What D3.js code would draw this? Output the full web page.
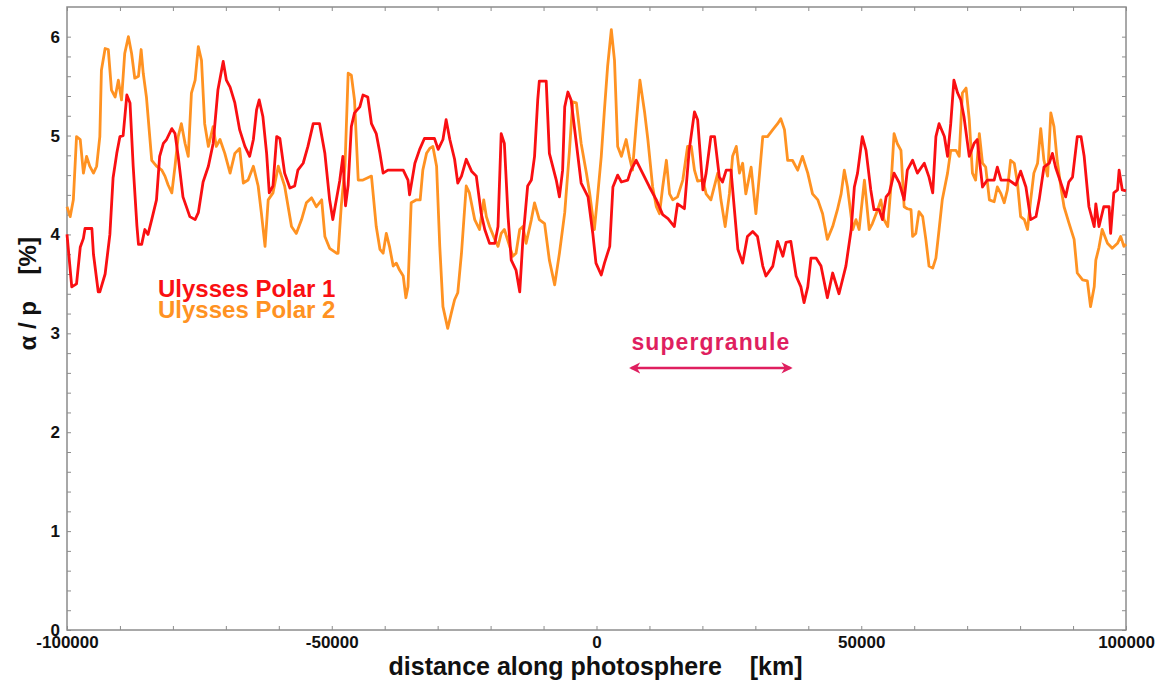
<!DOCTYPE html>
<html lang="en">
<meta charset="utf-8">
<script src="https://cdn.jsdelivr.net/npm/d3@7"></script>
<style>
body { margin: 0; background: #fff; }
text { font-family: "Liberation Sans", Arial, Helvetica, sans-serif; font-weight: bold; }
.frame { fill: none; stroke: #8c8c8c; stroke-width: 1.5px; }
.axis path { display: none; }
.axis line { stroke: #8c8c8c; stroke-width: 1px; }
.axis text { font-size: 17px; fill: #111; }
</style>
<body>
<script>
// Ulysses Polar 1 (red): distance [km] and alpha/p [%]
var p1Km = [-100000,-99100,-98200,-97500,-96900,-96600,-95300,-95000,-94100,-93800,-92800,-91900,-91300,-90600,-90000,-89400,-88700,-88100,-87500,-86800,-86500,-85900,-85300,-84700,-84000,-83100,-82500,-81800,-81200,-80200,-79600,-79000,-78100,-76800,-75800,-75200,-74300,-73300,-72400,-71500,-70500,-69900,-69200,-68300,-67400,-66400,-65500,-64800,-64200,-63700,-63000,-62300,-61800,-61100,-60400,-59800,-58900,-57900,-57000,-56400,-55400,-54500,-53500,-52300,-51300,-50400,-49800,-48500,-47900,-47400,-46900,-46300,-45700,-44700,-44100,-43200,-42500,-41600,-40900,-40300,-39400,-36500,-35600,-35300,-34300,-33400,-32500,-30600,-29900,-29000,-28400,-27700,-26800,-26200,-25500,-24600,-23600,-22700,-21800,-21100,-20200,-19200,-18600,-18000,-17400,-16700,-16100,-15200,-14500,-13900,-13000,-12300,-11700,-11100,-10800,-9500,-8900,-7600,-7000,-6400,-6000,-5400,-4800,-3800,-2900,-1600,-700,-100,900,1500,2500,3100,4000,4700,5900,6500,7500,8700,10000,11300,12500,13500,14700,15300,16600,17500,18500,19100,20100,20700,21600,22300,23200,23800,24500,25400,26000,26700,27600,28500,29500,30400,31400,32000,33300,34200,35200,35800,36700,37700,38600,39200,39900,40500,41500,42400,43600,44600,45800,47100,48100,48700,49300,50200,50900,51800,52400,53400,54000,54700,55300,56200,57200,58100,58700,59700,60600,61900,62800,63500,64100,64700,65700,66300,66900,67500,68200,68800,69400,70400,71300,71900,72900,73800,75100,75700,76400,77900,79200,80100,81100,82000,83000,83600,84500,85500,86100,86700,87700,88600,89200,89900,90800,91500,92100,93000,94000,94300,94900,95800,96800,97100,97700,98400,98700,99300,100000];
var p1Pct = [4.0,3.47,3.5,3.87,3.96,4.06,4.06,3.8,3.42,3.42,3.6,4.0,4.57,4.82,4.99,5.0,5.41,5.33,4.69,4.09,3.9,3.9,4.05,4.0,4.15,4.35,4.79,4.92,4.96,5.07,5.02,4.79,4.38,4.18,4.15,4.22,4.53,4.69,4.92,5.46,5.75,5.56,5.49,5.33,5.06,4.89,4.79,4.96,5.26,5.36,5.19,4.82,4.42,4.49,4.99,4.97,4.62,4.47,4.49,4.65,4.72,4.89,5.12,5.12,4.82,4.35,4.15,4.54,4.79,4.29,4.5,5.09,5.23,5.29,5.41,5.39,5.12,5.02,4.82,4.62,4.65,4.65,4.55,4.4,4.72,4.86,4.97,4.97,4.86,4.96,5.16,4.96,4.76,4.52,4.59,4.76,4.64,4.59,4.22,4.05,3.91,3.91,4.08,5.02,4.92,4.18,3.74,3.64,3.42,3.95,4.49,4.55,4.79,5.36,5.55,5.55,4.82,4.55,4.38,4.65,5.29,5.44,5.36,4.92,4.52,4.38,4.01,3.71,3.59,3.71,3.88,4.48,4.6,4.53,4.55,4.65,4.75,4.62,4.48,4.35,4.2,4.16,4.08,4.31,4.26,4.85,5.24,5.16,4.45,4.62,4.99,4.99,4.58,4.53,4.65,4.65,4.28,3.85,3.71,3.98,4.03,3.98,3.68,3.58,3.68,3.93,3.78,3.92,3.93,3.58,3.47,3.31,3.47,3.76,3.76,3.68,3.36,3.61,3.4,3.68,4.05,4.48,4.62,4.99,4.85,4.45,4.25,4.25,4.15,4.38,4.42,4.62,4.52,4.35,4.65,4.75,4.62,4.72,4.58,4.42,4.99,5.12,4.99,4.79,5.12,5.56,5.43,5.36,5.19,4.79,4.92,4.96,4.48,4.55,4.55,4.68,4.55,4.55,4.5,4.64,4.48,4.15,4.18,4.35,4.68,4.72,4.82,4.68,4.52,4.38,4.53,4.58,4.99,4.99,4.79,4.28,4.08,4.31,4.08,4.28,4.28,4.01,4.42,4.45,4.65,4.45,4.44];

// Ulysses Polar 2 (orange)
var p2Km = [-100000,-99400,-98800,-98200,-97500,-96900,-96300,-95700,-95000,-94400,-93800,-93500,-92800,-92200,-91600,-90900,-90300,-89700,-89100,-88400,-87800,-87200,-86500,-86000,-85600,-85000,-84000,-83100,-82100,-81500,-80900,-80200,-79600,-79000,-78400,-77700,-77100,-76500,-75800,-75200,-74600,-74000,-73300,-72400,-71800,-71100,-70200,-69200,-68300,-67400,-66700,-65800,-64800,-63900,-63300,-62600,-62000,-61100,-60100,-59500,-58900,-57600,-56700,-55700,-54800,-53800,-52900,-51900,-51300,-50400,-49100,-48800,-48200,-47500,-46900,-46300,-45700,-45000,-44100,-42500,-41600,-40900,-40300,-39700,-39100,-38400,-37800,-37200,-36500,-36000,-35600,-35000,-34000,-33300,-32800,-32100,-31500,-30900,-30200,-29600,-29000,-28100,-27400,-26800,-26200,-25500,-24600,-24000,-23000,-22100,-21300,-20800,-20200,-19200,-18600,-18000,-17400,-16400,-15800,-15200,-14500,-13900,-13300,-12300,-11700,-10800,-9800,-8900,-7900,-7000,-6000,-5100,-4500,-3800,-2900,-1900,-1300,-400,200,900,1500,2100,2800,3400,4000,4700,5600,6200,6800,7500,8200,9100,9700,10600,11300,11900,12500,13200,13800,14400,15300,16300,17200,17900,18500,19100,20100,20700,21600,22900,23500,24300,25100,25700,26400,27000,27600,28200,29200,30100,30800,31400,32300,33300,34200,34800,35500,36100,37000,38000,38900,39900,40800,41800,42700,43600,44600,45500,46200,46800,47400,48400,49000,49600,50600,51500,52100,53100,53700,54300,55000,55600,56200,56800,57500,58100,58700,59400,59700,60300,60900,61600,62200,62800,63500,64100,64700,65300,66300,66900,67900,68500,69100,69800,70400,71000,71600,72300,72900,73500,74200,75100,75700,76400,77000,77600,78200,78900,79500,80100,80800,81400,82000,82600,83300,83900,84500,85200,85800,86400,87000,87700,88300,89200,90200,90800,91800,92700,93300,94000,94300,94900,95500,96500,97400,98400,99000,99600,100000];
var p2Pct = [4.28,4.18,4.35,4.99,4.96,4.62,4.79,4.69,4.62,4.69,4.99,5.66,5.88,5.87,5.46,5.39,5.56,5.36,5.83,6.0,5.83,5.58,5.6,5.87,5.63,5.39,4.75,4.69,4.65,4.59,4.5,4.42,4.69,4.99,5.12,4.92,4.79,5.43,5.56,5.9,5.76,5.12,4.89,5.09,4.89,4.96,4.82,4.62,4.82,4.87,4.52,4.55,4.69,4.49,4.22,3.88,4.35,4.42,4.69,4.59,4.49,4.08,4.01,4.15,4.32,4.37,4.28,4.35,3.98,3.86,3.81,3.81,4.29,4.69,5.63,5.61,5.36,4.55,4.55,4.59,4.08,3.85,3.81,4.01,3.88,3.68,3.71,3.64,3.58,3.36,3.47,4.32,4.35,4.35,4.65,4.82,4.87,4.89,4.69,3.88,3.27,3.05,3.21,3.34,3.41,3.81,4.49,4.42,4.15,4.05,4.35,4.18,4.08,3.95,3.88,4.01,4.05,3.88,3.78,3.81,4.05,4.08,3.91,4.15,4.32,4.15,4.11,3.74,3.49,3.81,4.22,4.85,5.34,5.33,4.92,4.62,4.42,4.05,4.38,4.79,5.26,5.7,6.07,5.76,4.89,4.79,4.96,4.79,4.65,5.12,5.56,5.23,4.96,4.48,4.28,4.21,4.48,4.75,4.41,4.35,4.38,4.55,4.89,4.89,4.65,4.54,4.55,4.41,4.35,4.62,4.35,4.08,4.41,4.79,4.89,4.62,4.72,4.41,4.68,4.21,4.62,4.99,4.99,5.06,5.12,5.17,5.06,4.75,4.75,4.65,4.79,4.62,4.41,4.35,4.21,3.95,4.08,4.25,4.41,4.65,4.48,4.05,4.15,4.05,4.55,4.05,4.11,4.25,4.35,4.15,4.08,4.48,5.02,4.92,4.85,4.28,4.26,4.25,3.98,4.01,4.23,4.18,3.95,3.68,3.66,3.76,4.05,4.35,4.62,4.85,4.85,4.79,5.43,5.48,5.16,4.62,4.55,5.02,4.72,4.68,4.35,4.33,4.48,4.41,4.32,4.45,4.75,4.72,4.52,4.18,4.15,4.05,4.35,4.62,4.72,5.07,4.75,4.59,5.23,5.09,4.75,4.48,4.28,4.12,3.95,3.61,3.54,3.53,3.27,3.47,3.74,3.87,4.05,3.91,3.86,3.91,3.98,3.88,3.9];

var seriesNames = ["Ulysses Polar 1", "Ulysses Polar 2"];
var seriesColors = ["#fa0f12", "#ff9222"];
var xMajor = [-100000, -50000, 0, 50000, 100000];
var yMajor = [0, 1, 2, 3, 4, 5, 6];
var superKm = [6200, 37000];  // supergranule arrow span
var superPct = 2.65;

var margin = {top: 7, right: 35, bottom: 54, left: 67};
var width = 1161 - margin.left - margin.right;
var height = 684 - margin.top - margin.bottom;

var svg = d3.select("body").append("svg")
    .attr("width", 1161)
    .attr("height", 684);

var g = svg.append("g")
    .attr("transform", "translate(" + margin.left + "," + margin.top + ")");

var x = d3.scaleLinear().domain([-100000, 100000]).range([0, width]);
var y = d3.scaleLinear().domain([0, 6.3]).range([height, 0]);

var minorX = d3.range(-100000, 100001, 10000);
var minorY = d3.range(0, 31).map(function(i){ return +(i * 0.2).toFixed(1); });

// bottom axis: inward ticks, labels only at the majors (plain hyphen minus)
g.append("g")
    .attr("class", "axis")
    .attr("transform", "translate(0," + height + ")")
    .call(d3.axisBottom(x).tickValues(minorX).tickSize(-4).tickPadding(6)
        .tickFormat(function(d){ return xMajor.indexOf(d) >= 0 ? String(d) : ""; }));

g.append("g")
    .attr("class", "axis")
    .call(d3.axisTop(x).tickValues(minorX).tickSize(-4).tickFormat(""));

g.append("g")
    .attr("class", "axis")
    .call(d3.axisLeft(y).tickValues(minorY).tickSize(-4).tickPadding(7)
        .tickFormat(function(d){ return yMajor.indexOf(d) >= 0 ? d : ""; }));

g.append("g")
    .attr("class", "axis")
    .attr("transform", "translate(" + width + ",0)")
    .call(d3.axisRight(y).tickValues(minorY).tickSize(-4).tickFormat(""));

g.append("rect")
    .attr("class", "frame")
    .attr("width", width)
    .attr("height", height);

var line = d3.line()
    .x(function(d){ return x(d[0]); })
    .y(function(d){ return y(d[1]); });

var s2 = d3.zip(p2Km, p2Pct);
var s1 = d3.zip(p1Km, p1Pct);

g.append("path")
    .attr("d", line(s2))
    .style("fill", "none")
    .style("stroke", seriesColors[1])
    .style("stroke-width", 2.8)
    .style("stroke-linejoin", "round");

g.append("path")
    .attr("d", line(s1))
    .style("fill", "none")
    .style("stroke", seriesColors[0])
    .style("stroke-width", 2.8)
    .style("stroke-linejoin", "round");

// legend
g.selectAll(".legend")
    .data(seriesNames)
    .enter()
    .append("text")
    .attr("class", "legend")
    .attr("x", 91)
    .attr("y", function(d, i){ return 290 + i * 21; })
    .style("font-size", "24px")
    .style("fill", function(d, i){ return seriesColors[i]; })
    .text(function(d){ return d; });

// supergranule marker
var pink = "#df1f5f";
var defs = svg.append("defs");
defs.append("marker")
    .attr("id", "head")
    .attr("viewBox", "0 0 10 10")
    .attr("refX", 8).attr("refY", 5)
    .attr("markerWidth", 4.5).attr("markerHeight", 4.5)
    .attr("orient", "auto-start-reverse")
    .append("path")
    .attr("d", "M0,0 L10,5 L0,10 L3,5 Z")
    .style("fill", pink);

g.append("line")
    .attr("x1", x(superKm[0]) + 2).attr("x2", x(superKm[1]) - 2)
    .attr("y1", y(superPct)).attr("y2", y(superPct))
    .style("stroke", pink)
    .style("stroke-width", 2.5)
    .attr("marker-start", "url(#head)")
    .attr("marker-end", "url(#head)");

g.append("text")
    .attr("x", x((superKm[0] + superKm[1]) / 2))
    .attr("y", y(superPct) - 18)
    .attr("text-anchor", "middle")
    .style("font-size", "23px")
    .style("letter-spacing", "1.1px")
    .style("fill", pink)
    .text("supergranule");

// axis titles
g.append("text")
    .attr("x", width / 2 - 1)
    .attr("y", height + 45)
    .attr("text-anchor", "middle")
    .style("font-size", "25px")
    .style("fill", "#111")
    .style("white-space", "pre")
    .text("distance along photosphere    [km]");

g.append("text")
    .attr("transform", "translate(-31," + (y(3.4)) + ") rotate(-90)")
    .attr("text-anchor", "middle")
    .style("font-size", "24px")
    .style("fill", "#111")
    .style("white-space", "pre")
    .text("\u03b1 / p    [%]");
</script>
</body>
</html>
